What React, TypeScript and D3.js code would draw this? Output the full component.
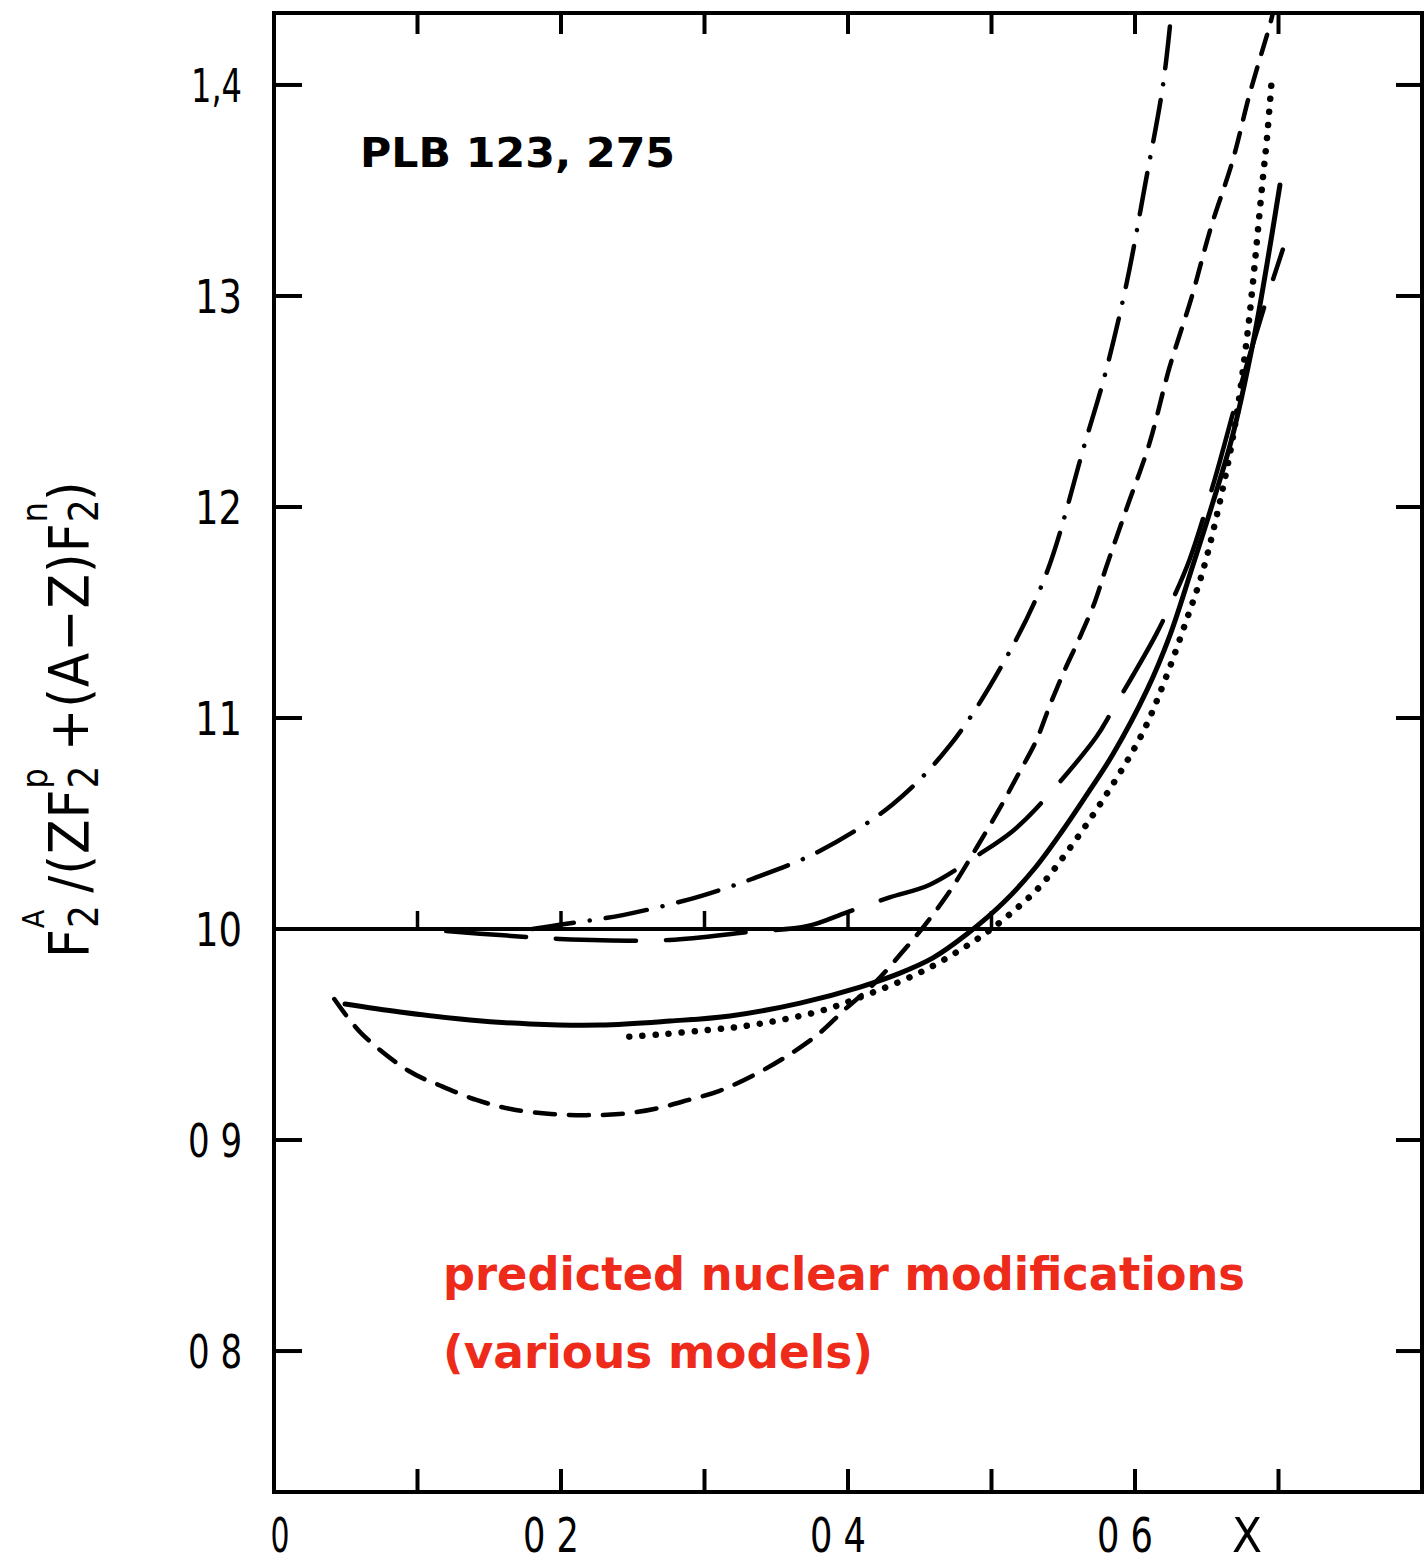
import React from "react";
import * as d3 from "d3";

const W = 1427;
const H = 1563;
const FRAME = { left: 274, top: 13, right: 1422, bottom: 1492 };

// axis data
const xDomain = [0, 0.8];
const yDomain = [0.7332, 1.4341];
const xTickValues = [0.1, 0.2, 0.3, 0.4, 0.5, 0.6, 0.7];
const yTickValues = [0.8, 0.9, 1.0, 1.1, 1.2, 1.3, 1.4];
const xLabelValues = [0, 0.2, 0.4, 0.6];
const xLabelTexts = ["0", "0 2", "0 4", "0 6"];
const yLabelTexts = ["0 8", "0 9", "10", "11", "12", "13", "1,4"];
const refTickValues = [0.1, 0.2, 0.3, 0.4, 0.5];
const refLevel = 1.0;

// solid curve
const solidX = [0.0495, 0.0878, 0.1366, 0.1784, 0.2272, 0.276, 0.3178, 0.3666, 0.4084, 0.4362, 0.4592, 0.4829, 0.508, 0.5303, 0.5498, 0.5686, 0.5847, 0.6084, 0.6244, 0.6404, 0.6537, 0.6676, 0.6822, 0.6913, 0.701];
const solidY = [0.9645, 0.9607, 0.9569, 0.955, 0.9545, 0.9564, 0.9588, 0.9649, 0.9725, 0.9791, 0.9863, 0.9976, 1.0123, 1.0289, 1.0469, 1.0659, 1.0829, 1.1133, 1.1393, 1.1725, 1.2009, 1.2327, 1.2777, 1.3123, 1.3526];

// dotted curve
const dotX = [0.2476, 0.2685, 0.3, 0.328, 0.354, 0.38, 0.406, 0.452, 0.4895, 0.511, 0.5335, 0.551, 0.5774, 0.6046, 0.6206, 0.6367, 0.647, 0.66, 0.67, 0.678, 0.682, 0.6855, 0.689, 0.692, 0.695];
const dotY = [0.949, 0.95, 0.952, 0.954, 0.957, 0.961, 0.967, 0.98, 0.995, 1.006, 1.02, 1.035, 1.061, 1.092, 1.1175, 1.148, 1.169, 1.205, 1.24, 1.28, 1.305, 1.33, 1.355, 1.375, 1.4];

// short-dash curve
const shortDashX = [0.042, 0.0607, 0.094, 0.1165, 0.141, 0.165, 0.193, 0.218, 0.2406, 0.265, 0.289, 0.31, 0.335, 0.358, 0.379, 0.398, 0.418, 0.4365, 0.453, 0.471, 0.49, 0.5056, 0.518, 0.531, 0.541, 0.551, 0.561, 0.572, 0.5795, 0.594, 0.61, 0.624, 0.6395, 0.653, 0.668, 0.68, 0.695, 0.698];
const shortDashY = [0.9668, 0.9507, 0.9327, 0.9256, 0.919, 0.9147, 0.9123, 0.9118, 0.9123, 0.9147, 0.919, 0.9232, 0.931, 0.94, 0.95, 0.962, 0.974, 0.988, 1.0014, 1.018, 1.039, 1.057, 1.0725, 1.089, 1.1066, 1.1227, 1.1374, 1.155, 1.1706, 1.199, 1.23, 1.266, 1.2995, 1.3327, 1.364, 1.396, 1.431, 1.44];

// long-dash curve
const longDashX = [0.12, 0.16, 0.199, 0.2755, 0.331, 0.372, 0.3996, 0.429, 0.457, 0.4917, 0.514, 0.531, 0.573, 0.5837, 0.615, 0.6255, 0.638, 0.6555, 0.673, 0.692, 0.703];
const longDashY = [0.999, 0.997, 0.9953, 0.9948, 0.9986, 1.0014, 1.008, 1.015, 1.021, 1.0355, 1.046, 1.057, 1.091, 1.103, 1.14, 1.155, 1.175, 1.213, 1.256, 1.299, 1.322];

// dash-dot curve
const dashDotX = [0.18, 0.199, 0.243, 0.29, 0.313, 0.333, 0.379, 0.431, 0.471, 0.509, 0.538, 0.565, 0.5788, 0.5942, 0.6074, 0.6193, 0.6255, 0.628];
const dashDotY = [1.0, 1.002, 1.0066, 1.0142, 1.019, 1.0237, 1.0365, 1.059, 1.087, 1.127, 1.168, 1.23, 1.262, 1.3062, 1.354, 1.399, 1.435, 1.45];

const NARROW = "'Liberation Sans Narrow', 'Arial Narrow', 'DejaVu Sans Condensed', 'DejaVu Sans', sans-serif";
const BOLD = "'DejaVu Sans', Verdana, sans-serif";

function labelWidth(t: string) {
  if (t.length === 1) return 20;
  if (t === "1,4") return 51;
  if (t.length === 2) return 47;
  return 54;
}

export default function App() {
  const x = d3.scaleLinear().domain(xDomain).range([FRAME.left, FRAME.right]);
  const y = d3.scaleLinear().domain(yDomain).range([FRAME.bottom, FRAME.top]);

  const line = d3
    .line<[number, number]>()
    .x((d) => x(d[0]))
    .y((d) => y(d[1]))
    .curve(d3.curveCatmullRom.alpha(0.5));

  const zip = (xs: number[], ys: number[]) => xs.map((v, i) => [v, ys[i]] as [number, number]);

  const curves = [
    { pts: zip(solidX, solidY), dash: "none", w: 5 },
    { pts: zip(dotX, dotY), dash: "0.1 13", w: 6.5 },
    { pts: zip(shortDashX, shortDashY), dash: "20 14", w: 4.5 },
    { pts: zip(longDashX, longDashY), dash: "80 30", w: 4.5 },
    { pts: zip(dashDotX, dashDotY), dash: "42 16 0.1 16", w: 4.5 },
  ];

  const ls = 1;
  const subW = 23 + ls;

  return (
    <svg
      width={W}
      height={H}
      viewBox={`0 0 ${W} ${H}`}
      style={{ position: "absolute", left: 0, top: 0, display: "block", background: "#fff" }}
    >
      <defs>
        <clipPath id="plotClip">
          <rect x={FRAME.left} y={FRAME.top} width={FRAME.right - FRAME.left} height={FRAME.bottom - FRAME.top} />
        </clipPath>
      </defs>
      <rect x={0} y={0} width={W} height={H} fill="#fff" />

      {/* frame */}
      <rect
        x={FRAME.left}
        y={FRAME.top}
        width={FRAME.right - FRAME.left}
        height={FRAME.bottom - FRAME.top}
        fill="none"
        stroke="#000"
        strokeWidth={4}
      />

      {/* x ticks top & bottom */}
      {xTickValues.map((v) => (
        <g key={"xt" + v}>
          <line x1={x(v)} x2={x(v)} y1={FRAME.top} y2={FRAME.top + 21} stroke="#000" strokeWidth={4} />
          <line x1={x(v)} x2={x(v)} y1={FRAME.bottom} y2={FRAME.bottom - 23} stroke="#000" strokeWidth={4} />
        </g>
      ))}
      {/* y ticks left & right */}
      {yTickValues.map((v) => (
        <g key={"yt" + v}>
          <line x1={FRAME.left} x2={FRAME.left + 28} y1={y(v)} y2={y(v)} stroke="#000" strokeWidth={4} />
          <line x1={FRAME.right} x2={FRAME.right - 26} y1={y(v)} y2={y(v)} stroke="#000" strokeWidth={4} />
        </g>
      ))}

      {/* reference line at 1.0 with small ticks */}
      <line x1={x(xDomain[0])} x2={x(xDomain[1])} y1={y(refLevel)} y2={y(refLevel)} stroke="#000" strokeWidth={4} />
      {refTickValues.map((v) => (
        <line key={"rt" + v} x1={x(v)} x2={x(v)} y1={y(refLevel)} y2={y(refLevel) - 18} stroke="#000" strokeWidth={3.5} />
      ))}

      {/* curves */}
      <g clipPath="url(#plotClip)">
        {curves.map((c, i) => (
          <path
            key={i}
            d={line(c.pts) || ""}
            fill="none"
            stroke="#000"
            strokeWidth={c.w}
            strokeDasharray={c.dash}
            strokeLinecap="round"
            strokeLinejoin="round"
          />
        ))}
      </g>

      {/* y tick labels */}
      {yTickValues.map((v, i) => (
        <text
          key={"yl" + v}
          x={FRAME.left - 32 - labelWidth(yLabelTexts[i])}
          y={y(v) + 17}
          fontFamily={NARROW}
          fontSize={47}
          textLength={labelWidth(yLabelTexts[i])}
          lengthAdjust="spacingAndGlyphs"
          fill="#000"
        >
          {yLabelTexts[i]}
        </text>
      ))}

      {/* x tick labels */}
      {xLabelValues.map((v, i) => {
        const w = labelWidth(xLabelTexts[i]) + (xLabelTexts[i].length > 1 ? 2 : -1);
        const cx = x(v) + (v === 0 ? 6 : -10);
        return (
          <text
            key={"xl" + v}
            x={cx - w / 2}
            y={1552}
            fontFamily={NARROW}
            fontSize={48}
            textLength={w}
            lengthAdjust="spacingAndGlyphs"
            fill="#000"
          >
            {xLabelTexts[i]}
          </text>
        );
      })}
      <text x={x(0.678) - 15} y={1552} fontFamily={NARROW} fontSize={48} textLength={30} lengthAdjust="spacingAndGlyphs" fill="#000">
        X
      </text>

      {/* y axis title */}
      <g transform="translate(88, 958) rotate(-90)">
        <text x={0} y={0} fontFamily={NARROW} fontSize={56} letterSpacing={ls} fill="#000">
          <tspan>F</tspan>
          <tspan fontSize={40} dy={10}>2</tspan>
          <tspan fontSize={30} dx={-subW} dy={-54}>A</tspan>
          <tspan fontSize={56} dy={44} dx={16}>/(ZF</tspan>
          <tspan fontSize={40} dy={10}>2</tspan>
          <tspan fontSize={36} dx={-subW} dy={-51}>p</tspan>
          <tspan fontSize={56} dy={41} dx={16}>+(A−Z)F</tspan>
          <tspan fontSize={40} dy={10}>2</tspan>
          <tspan fontSize={36} dx={-subW} dy={-51}>n</tspan>
          <tspan fontSize={56} dy={41}>)</tspan>
        </text>
      </g>

      {/* annotations */}
      <text x={360} y={167} fontFamily={BOLD} fontWeight="bold" fontSize={41} textLength={315} lengthAdjust="spacingAndGlyphs" fill="#000">
        PLB 123, 275
      </text>
      <text x={443} y={1290} fontFamily={BOLD} fontWeight="bold" fontSize={46} textLength={802} lengthAdjust="spacingAndGlyphs" fill="#ee2a1b">
        predicted nuclear modifications
      </text>
      <text x={443} y={1368} fontFamily={BOLD} fontWeight="bold" fontSize={46} textLength={430} lengthAdjust="spacingAndGlyphs" fill="#ee2a1b">
        (various models)
      </text>
    </svg>
  );
}
